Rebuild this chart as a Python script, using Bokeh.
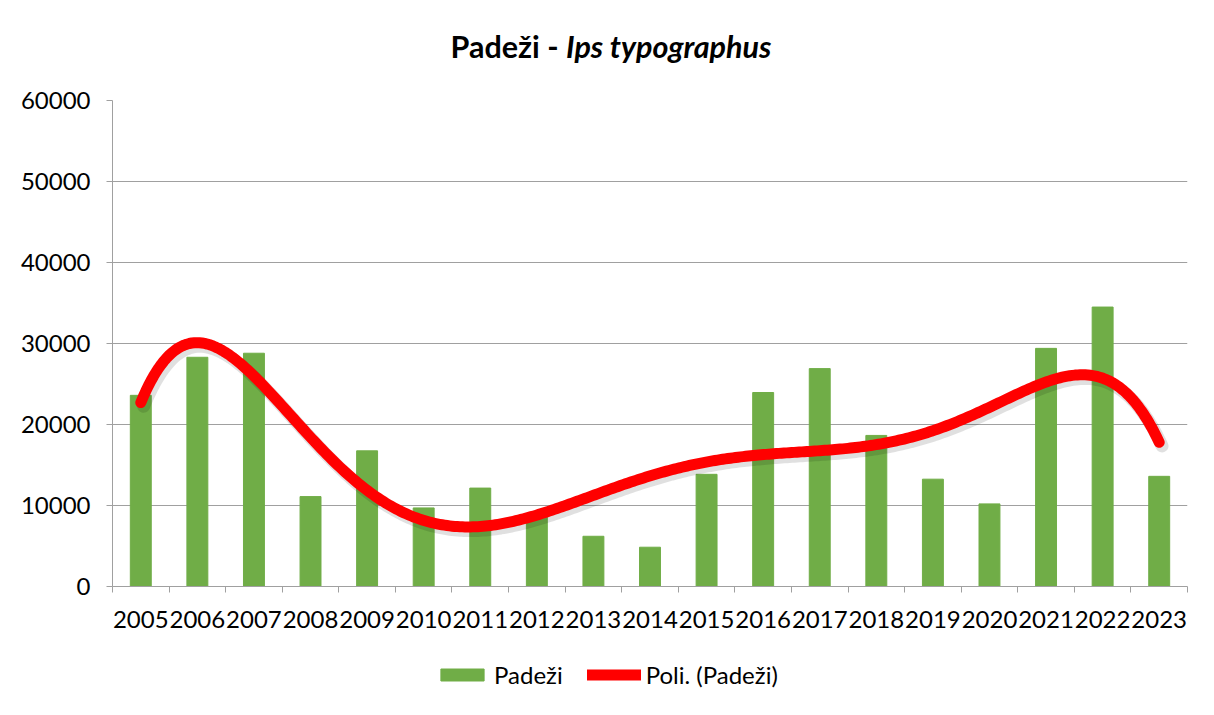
import numpy as np
from bokeh.plotting import figure
from bokeh.models import (ColumnDataSource, FixedTicker, Legend, LegendItem, Div)
from bokeh.layouts import column
from bokeh.embed import file_html
from bokeh.resources import INLINE

# ---- data ----
years = ["2005", "2006", "2007", "2008", "2009", "2010", "2011", "2012", "2013", "2014",
         "2015", "2016", "2017", "2018", "2019", "2020", "2021", "2022", "2023"]
padezi = [23600, 28300, 28800, 11100, 16750, 9700, 12150, 8700, 6200, 4850,
          13850, 23950, 26900, 18650, 13250, 10200, 29400, 34500, 13600]
y_ticks = [0, 10000, 20000, 30000, 40000, 50000, 60000]
title_main = "Padeži - "
title_species = "Ips typographus"
series_name = "Padeži"
trend_name = "Poli. (Padeži)"

FONT = "Lato"
GRID = "#a0a0a0"
GREEN = "#70AD47"
RED = "#FF0000"

x = np.arange(1, len(years) + 1)
src = ColumnDataSource(dict(x=x, top=padezi))

# polynomial trendline (order 6) computed from the data, like the spreadsheet trendline
coef = np.polyfit(x, padezi, 6)
xs = np.linspace(1, len(years), 400)
ys = np.polyval(coef, xs)

p = figure(width=1198, height=570, x_range=(0.5, len(years) + 0.5), y_range=(0, 60000),
           output_backend="svg", toolbar_location=None,
           min_border_left=112, min_border_right=11, min_border_top=20, min_border_bottom=64)
p.outline_line_color = None

p.vbar(x="x", top="top", width=0.37, bottom=0, source=src,
       fill_color=GREEN, line_color=GREEN)

p.line(xs + 0.05, ys - 450, line_width=13, line_color="#000000", line_alpha=0.12,
       line_cap="round")
p.line(xs, ys, line_width=11, line_color=RED, line_cap="round", line_join="round")

# axes
p.xgrid.grid_line_color = None
p.ygrid.grid_line_color = GRID
p.ygrid.ticker = FixedTicker(ticks=y_ticks)

p.yaxis.ticker = FixedTicker(ticks=y_ticks)
p.yaxis.major_tick_out = 6
p.yaxis.major_tick_in = 0
p.yaxis.minor_tick_out = 0
p.yaxis.minor_tick_in = 0
p.yaxis.axis_line_color = GRID
p.yaxis.major_tick_line_color = GRID
p.yaxis.major_label_text_font = FONT
p.yaxis.major_label_text_font_size = "24px"
p.yaxis.major_label_text_color = "#000000"
p.yaxis.major_label_standoff = 16

bounds = [i + 0.5 for i in range(len(years) + 1)]
p.xaxis.ticker = FixedTicker(ticks=list(x), minor_ticks=bounds)
p.xaxis.major_label_overrides = {int(i): y for i, y in zip(x, years)}
p.xaxis.major_tick_out = 0
p.xaxis.major_tick_in = 0
p.xaxis.minor_tick_out = 6
p.xaxis.minor_tick_in = 0
p.xaxis.minor_tick_line_color = GRID
p.xaxis.axis_line_color = GRID
p.xaxis.major_label_text_font = FONT
p.xaxis.major_label_text_font_size = "24px"
p.xaxis.major_label_text_color = "#000000"
p.xaxis.major_label_standoff = 18

# legend in its own strip below the chart (its sample glyphs sit outside the visible range)
lf = figure(width=1198, height=55, x_range=(0, 1), y_range=(0, 1),
            output_backend="svg", toolbar_location=None,
            min_border=0)
lf.axis.visible = False
lf.grid.grid_line_color = None
lf.outline_line_color = None
swatch = ColumnDataSource(dict(x=[-10, -9], top=[-10, -10], y=[-10, -10]))
lb = lf.vbar(x="x", top="top", bottom=-11, width=0.1, source=swatch,
             fill_color=GREEN, line_color=GREEN)
ll = lf.line(x="x", y="y", source=swatch, line_width=11, line_color=RED, line_cap="round")

legend = Legend(items=[LegendItem(label=series_name, renderers=[lb]),
                       LegendItem(label=trend_name, renderers=[ll])],
                orientation="horizontal", location=(323, 16))
legend.label_text_font = FONT
legend.label_text_font_size = "24px"
legend.label_text_color = "#000000"
legend.glyph_width = 54
legend.glyph_height = 15
legend.label_standoff = 5
legend.spacing = 24
legend.border_line_color = None
legend.background_fill_alpha = 0
legend.padding = 0
legend.margin = 0
lf.add_layout(legend, "center")

title = Div(text=(f'<div style="text-align:center;font-family:{FONT};font-weight:bold;'
                  f'font-size:30.5px;color:#000;padding-top:20px;'
                  f'position:relative;left:7px;width:1198px">'
                  f'{title_main}<i>{title_species}</i></div>'),
            width=1198, height=70)

layout = column(title, p, lf, spacing=0)
open("out.html", "w").write(file_html(layout, INLINE))
